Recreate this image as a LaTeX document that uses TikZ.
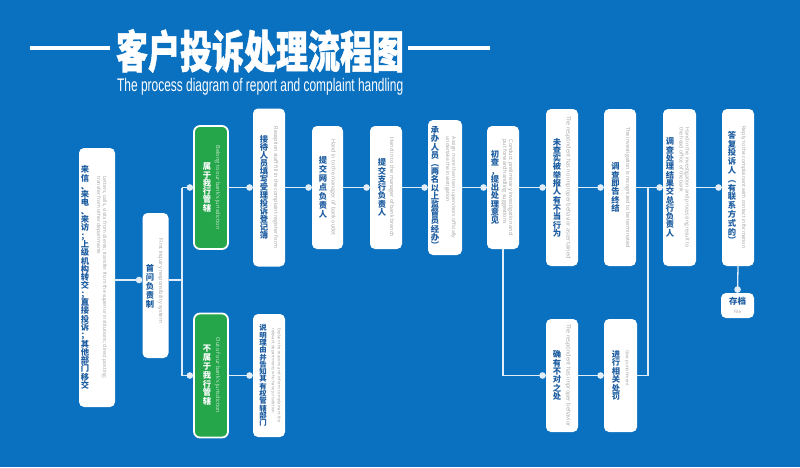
\documentclass[tikz,border=0pt]{standalone}
\usepackage{graphicx}
\usepackage{fontspec}
\setmainfont{Liberation Sans}
\newfontfamily\cjk{Noto Sans CJK SC}
\newfontfamily\cjktitle[FakeBold=1.2]{Noto Sans CJK SC}
\newfontfamily\enfont{Open Sans}
\usetikzlibrary{arrows.meta}
\definecolor{bgblue}{RGB}{10,112,192}
\definecolor{gfill}{RGB}{38,166,74}
\definecolor{tblue}{RGB}{28,92,160}
\definecolor{egray}{RGB}{160,160,160}
\definecolor{lcol}{RGB}{225,238,250}
\definecolor{glight}{RGB}{205,235,210}
\makeatletter
\newcommand\vt[2][8.3pt]{\vbox{\baselineskip=#1\relax\lineskiplimit=-20pt\lineskip=0pt\relax
  \@tfor\vt@c:=#2\do{\hbox to 1em{\hss\vt@c\hss}}}}
\makeatother
\newcommand\ens[1]{\enfont\fontsize{#1}{6}\selectfont}
\tikzset{
  wbox/.style={draw=none, fill=white, rounded corners=5pt, inner sep=0pt},
  gbox/.style={draw=white, line width=1.8pt, fill=gfill, rounded corners=6pt, inner sep=0pt},
  zhtxt/.style={text=tblue, font=\cjk\bfseries\fontsize{8.3}{8.3}\selectfont, inner sep=0pt},
  entxt/.style={text=egray, font=\ens{5.4}, rotate=-90, align=left, inner sep=0pt},
  conn/.style={draw=lcol, line width=1.3pt},
  dotend/.style={-{Circle[length=6.5pt]}},
}
\begin{document}
\begin{tikzpicture}[x=1pt,y=-1pt]
\useasboundingbox (0,0) rectangle (800,467);
\fill[bgblue] (0,0) rectangle (800,467);
% title
\draw[white, line width=4pt] (30,48) -- (110,48);
\draw[white, line width=4pt] (408,48) -- (490,48);
\node[text=white, inner sep=0pt] (title) at (260,51) {\scalebox{1}[1.4]{\cjktitle\bfseries\fontsize{32}{32}\selectfont 客户投诉处理流程图}};
\node[text=white, inner sep=0pt, anchor=base west] (subtitle) at (117,91.2) {\resizebox{286pt}{13.2pt}{The process diagram of report and complaint handling}};

% nodes
\node[wbox, minimum width=36pt, minimum height=259pt] (b1) at (97,277.5) {};
\node[zhtxt] at (85,277.5) {\vt{来信、来电、来访；上级机构转交；直接投诉；其他部门移交}};
\node[entxt, font=\ens{5.1}] at (101.5,277.5) {Letters, calls, visits from clients; transfer from the superior institutions; direct posting;\\transfer from other departments};

\node[wbox, minimum width=26pt, minimum height=145pt] (b2) at (155.5,285.5) {};
\node[zhtxt] at (150,286) {\vt[9pt]{首问负责制}};
\node[entxt] at (160.5,281) {First inquiry responsibility system};

\node[gbox, minimum width=34pt, minimum height=123pt] (g1) at (211,187.5) {};
\node[zhtxt, text=white] at (207,187.5) {\vt{属于我行管辖}};
\node[entxt, text=glight, font=\ens{5.6}] at (217.5,187.5) {Belong to our bank's jurisdiction};

\node[gbox, minimum width=34pt, minimum height=124pt] (g2) at (211,375.5) {};
\node[zhtxt, text=white] at (207,375.5) {\vt[8.8pt]{不属于我行管辖}};
\node[entxt, text=glight, font=\ens{5.6}] at (217.5,375.5) {Out of our bank's jurisdiction};

\node[wbox, minimum width=32pt, minimum height=158pt] (jd) at (269,187.5) {};
\node[zhtxt] at (264,187.5) {\vt[8pt]{接待人员填写受理投诉登记簿}};
\node[entxt] at (275.5,187.5) {Reception staff fill in the complaint register form};

\node[wbox, minimum width=32pt, minimum height=123pt] (sm) at (269,375.5) {};
\node[zhtxt, font=\cjk\bfseries\fontsize{7.4}{7.4}\selectfont] at (263,375.5) {\vt[7.3pt]{说明理由并告知其有权管辖部门}};
\node[entxt, font=\ens{4.2}] at (276,375.5) {Explain the reasons and inform complainant the\\relevant departments who have jurisdiction};

\node[wbox, minimum width=31pt, minimum height=123pt] (wd) at (327.5,187.5) {};
\node[zhtxt] at (323,187.5) {\vt[8.9pt]{提交网点负责人}};
\node[entxt] at (333,187.5) {Hand in to the manager of bank outlet};

\node[wbox, minimum width=32pt, minimum height=123pt] (zhh) at (386,187.5) {};
\node[zhtxt] at (382,187.5) {\vt{提交支行负责人}};
\node[entxt] at (391.5,187.5) {Hand in to the manager of bank branch};

\node[wbox, minimum width=34pt, minimum height=135pt] (cb) at (445,187.5) {};
\node[zhtxt] at (435,187.5) {\vt[8.2pt]{承办人员︵两名以上监督员经办︶}};
\node[entxt, font=\ens{5.1}] at (450.5,187.5) {Assign more than two supervisors officially\\undertake the investigation};

\node[wbox, minimum width=32pt, minimum height=123pt] (cc) at (503,187.5) {};
\node[zhtxt] at (495,187.5) {\vt{初查，提出处理意见}};
\node[entxt] at (507.5,187.5) {Conduct preliminary investigation and\\put forward handling suggestions};

\node[wbox, minimum width=32pt, minimum height=157pt] (wc) at (562,187.5) {};
\node[zhtxt] at (557,187.5) {\vt{未查实被举报人有不当行为}};
\node[entxt, font=\ens{5.6}] at (568,187.5) {The respondent has no improper behavior ascertained};

\node[wbox, minimum width=32pt, minimum height=157pt] (zj) at (620,187.5) {};
\node[zhtxt] at (615.5,187.5) {\vt{调查即告终结}};
\node[entxt] at (627.5,187.5) {The investigation is recognized to be terminated};

\node[wbox, minimum width=33pt, minimum height=157pt] (dc) at (679.5,187.5) {};
\node[zhtxt] at (670,187.5) {\vt{调查处理结果交总行负责人}};
\node[entxt, font=\ens{5.2}] at (684.5,187.5) {Hand in the investigation and processing result to\\the head office of the bank};

\node[wbox, minimum width=32pt, minimum height=157pt] (df) at (738,187.5) {};
\node[zhtxt] at (732,187.5) {\vt[8.8pt]{答复投诉人︵有联系方式的︶}};
\node[entxt, font=\ens{5.2}] at (743.5,187.5) {Reply to the complainant with contact information};

\node[wbox, minimum width=33pt, minimum height=25pt] (cd) at (737.5,305.5) {};
\node[text=tblue, font=\cjk\bfseries\fontsize{8.5}{8.5}\selectfont, inner sep=0pt] at (737.5,301) {存档};
\node[text=egray, font=\enfont\fontsize{4.5}{5}\selectfont, inner sep=0pt] at (737.5,312) {File};

\node[wbox, minimum width=32pt, minimum height=113pt] (qy) at (562,375.5) {};
\node[zhtxt] at (557,375.5) {\vt{确有不对之处}};
\node[entxt, font=\ens{5.6}] at (568,375.5) {The respondent has improper behavior};

\node[wbox, minimum width=33pt, minimum height=113pt] (jx) at (620.5,375.5) {};
\node[zhtxt] at (616,375.5) {\vt[8.4pt]{进行相关处罚}};
\node[entxt, font=\ens{4.5}] at (627,368) {Give punishment};

% connectors
\coordinate (r1) at (0,280);
\coordinate (brk) at (182,280);
\coordinate (jn) at (648,187.5);
\draw[conn,dotend] (b1.east |- r1) -- (b2.west |- r1);
\draw[conn] (b2.east |- r1) -- (brk);
\draw[conn] (brk |- g1.west) -- (brk |- g2.west);
\draw[conn,dotend] (brk |- g1.west) -- (g1.west);
\draw[conn,dotend] (brk |- g2.west) -- (g2.west);
\draw[conn,dotend] (g1.east) -- (jd.west);
\draw[conn,dotend] (g2.east) -- (sm.west);
\draw[conn,dotend] (jd.east) -- (wd.west);
\draw[conn,dotend] (wd.east) -- (zhh.west);
\draw[conn,dotend] (zhh.east) -- (cb.west);
\draw[conn,dotend] (cb.east) -- (cc.west);
\draw[conn,dotend] (cc.east) -- (wc.west);
\draw[conn,dotend] (wc.east) -- (zj.west);
\draw[conn,dotend] (zj.east) -- (dc.west);
\draw[conn,dotend] (dc.east) -- (df.west);
\draw[conn,dotend] (df.south) -- (cd.north);
\draw[conn,dotend] (cc.south) |- (qy.west);
\draw[conn,dotend] (qy.east) -- (jx.west);
\draw[conn] (jx.east) -| (jn);
\end{tikzpicture}
\end{document}
